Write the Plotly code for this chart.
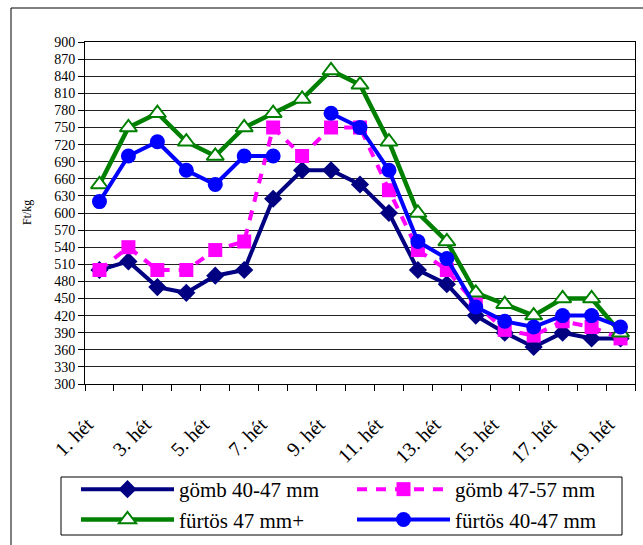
import plotly.graph_objects as go

weeks = [f"{i}. h\u00e9t" for i in range(1, 20)]
tick_text = [w if (i % 2 == 0) else "" for i, w in enumerate(weeks)]

gomb_40_47 = [500, 515, 470, 460, 490, 500, 625, 675, 675, 650, 600, 500, 475, 420, 390, 365, 390, 380, 380]
gomb_47_57 = [500, 540, 500, 500, 535, 550, 750, 700, 750, 750, 640, 535, 500, 440, 395, 385, 410, 400, 380]
furtos_47p = [650, 750, 775, 725, 700, 750, 775, 800, 850, 825, 725, 600, 550, 460, 440, 420, 450, 450, 390]
furtos_40_47 = [620, 700, 725, 675, 650, 700, 700, None, 775, 750, 675, 550, 520, 435, 410, 400, 420, 420, 400]

names = ["g\u00f6mb 40-47 mm", "g\u00f6mb 47-57 mm", "f\u00fcrt\u00f6s 47 mm+", "f\u00fcrt\u00f6s 40-47 mm"]

W, H = 643, 545
L, R, T, B = 85, 635, 42, 384
pw, ph = R - L, B - T


def px(x):
    return (x - L) / pw


def py(y):
    return (B - y) / ph


FONT = "Liberation Serif, Times New Roman, DejaVu Serif, serif"

fig = go.Figure()
fig.add_trace(go.Scatter(
    x=weeks, y=gomb_40_47, name=names[0], mode="lines+markers",
    line=dict(color="#000080", width=4),
    marker=dict(symbol="diamond", size=14, color="#000080", line=dict(width=0)),
))
fig.add_trace(go.Scatter(
    x=weeks, y=gomb_47_57, name=names[1], mode="lines+markers",
    line=dict(color="#FF00FF", width=4, dash="10px,9px"),
    marker=dict(symbol="square", size=14, color="#FF00FF", line=dict(width=0)),
))
fig.add_trace(go.Scatter(
    x=weeks, y=furtos_47p, name=names[2], mode="lines+markers",
    line=dict(color="#008000", width=4.5),
    marker=dict(symbol="triangle-up", size=15, color="white", line=dict(color="#008000", width=2)),
))
fig.add_trace(go.Scatter(
    x=weeks, y=furtos_40_47, name=names[3], mode="lines+markers",
    connectgaps=False,
    line=dict(color="#0000FF", width=4),
    marker=dict(symbol="circle", size=15, color="#0000FF", line=dict(width=0)),
))

fig.update_layout(
    template="none",
    width=W, height=H,
    margin=dict(l=L, r=W - R, t=T, b=H - B, autoexpand=False),
    paper_bgcolor="white", plot_bgcolor="white",
    font=dict(family=FONT, color="black"),
    showlegend=True,
    legend=dict(
        orientation="h",
        x=px(76), y=py(469), xanchor="left", yanchor="top",
        font=dict(family=FONT, size=21, color="black"),
        borderwidth=0, bgcolor="rgba(0,0,0,0)",
        itemwidth=93, entrywidth=168, entrywidthmode="pixels",
        tracegroupgap=0,
    ),
    xaxis=dict(
        type="category", tickvals=weeks, ticktext=tick_text,
        range=[-0.5, len(weeks) - 0.5], autorange=False,
        tickangle=-45, tickson="boundaries", automargin=False,
        ticklabelstandoff=20, ticklabelshift=-12,
        ticks="outside", ticklen=6, tickcolor="black",
        tickfont=dict(family=FONT, size=20, color="black"),
        showline=True, linecolor="black", linewidth=1, mirror=True,
        showgrid=False, zeroline=False,
    ),
    yaxis=dict(
        range=[300, 900], dtick=30, tick0=300, automargin=False,
        ticks="outside", ticklen=6, tickcolor="black",
        tickfont=dict(family=FONT, size=14, color="black"),
        showline=True, linecolor="black", linewidth=1, mirror=True,
        showgrid=True, gridcolor="#222222", gridwidth=1, zeroline=False,
    ),
    annotations=[
        dict(
            text="Ft/kg", x=px(27), y=0.5, xref="paper", yref="paper",
            textangle=-90, showarrow=False, font=dict(family=FONT, size=12, color="black"),
            xanchor="center", yanchor="middle",
        ),
    ],
    shapes=[
        dict(
            type="rect", xref="paper", yref="paper",
            x0=px(11), x1=px(700), y0=py(600), y1=py(8),
            line=dict(color="black", width=1), fillcolor="rgba(0,0,0,0)", layer="below",
        ),
        dict(
            type="rect", xref="paper", yref="paper",
            x0=px(61), x1=px(622), y0=py(535), y1=py(477),
            line=dict(color="black", width=1), fillcolor="white", layer="below",
        ),
    ],
)

fig.write_html(
    "out.html",
    config={"displayModeBar": False},
    post_script="document.body.style.margin='0';document.body.style.overflow='hidden';",
)
